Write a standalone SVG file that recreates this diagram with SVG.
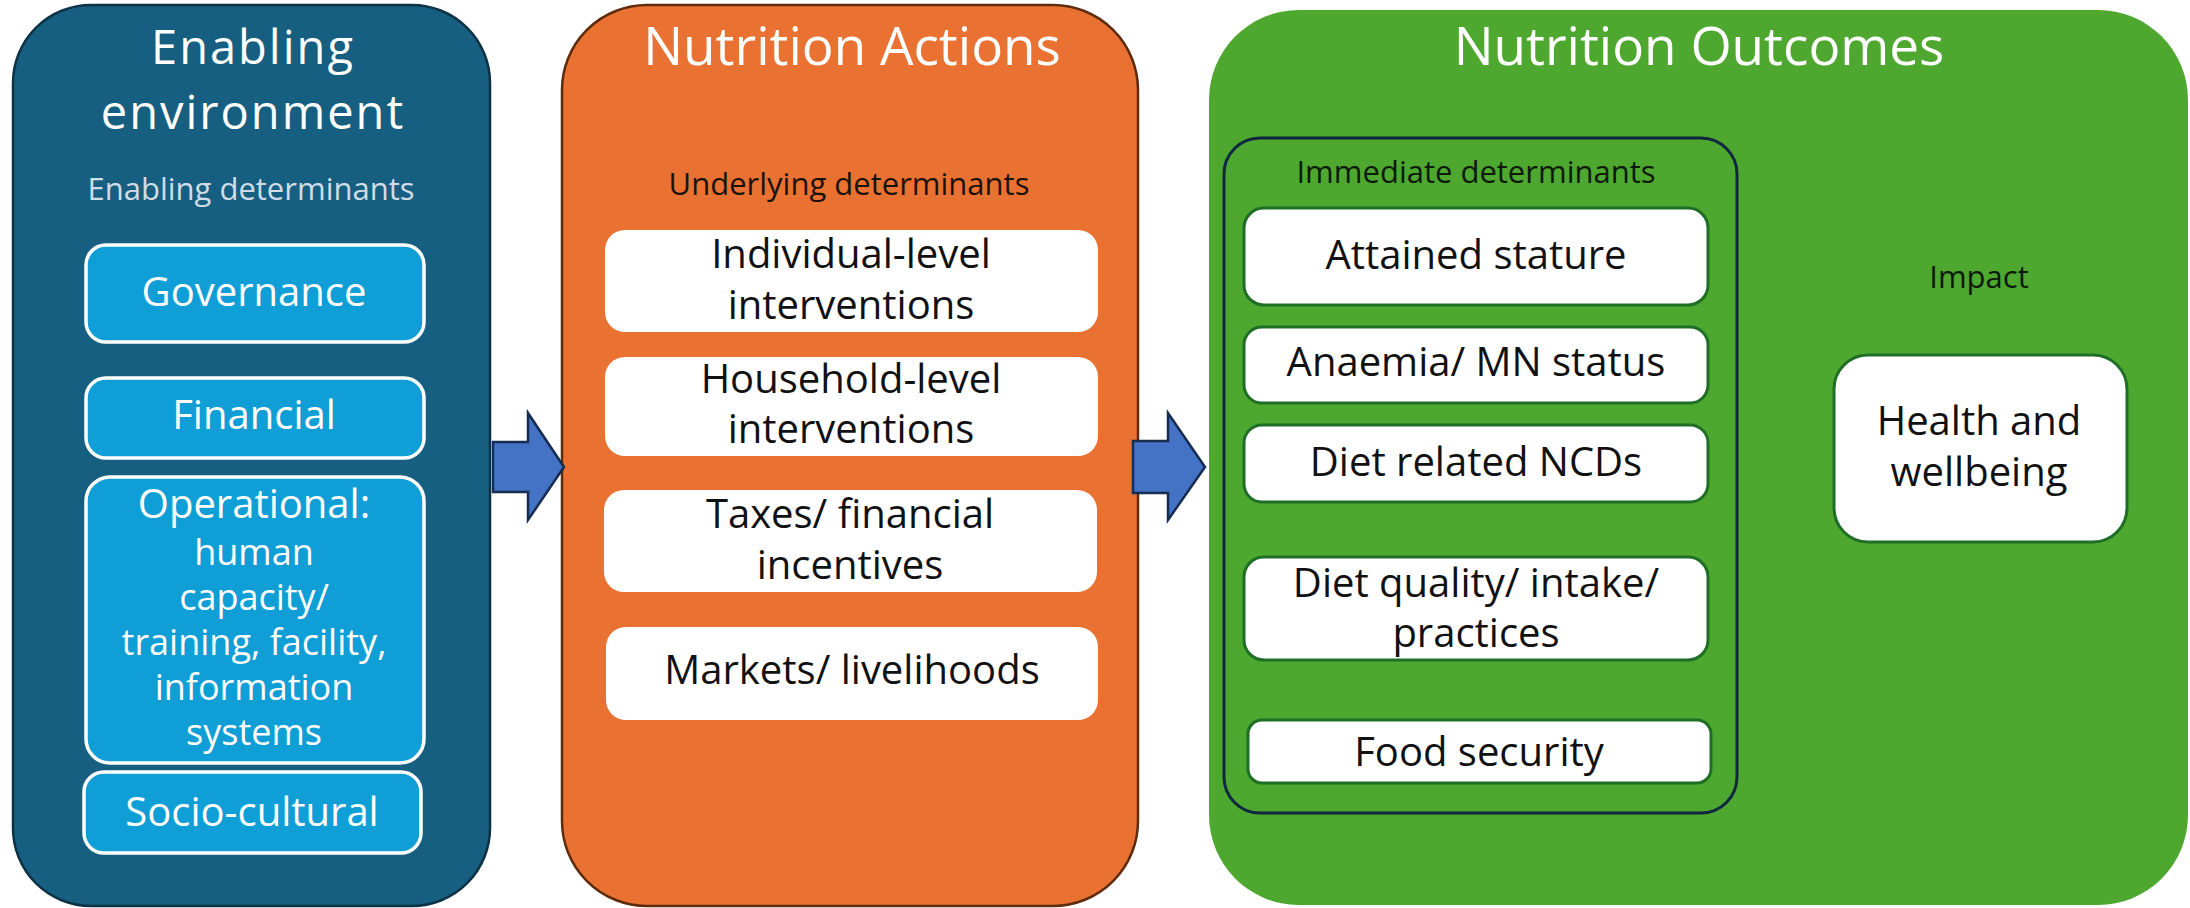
<svg xmlns="http://www.w3.org/2000/svg" width="2190" height="908" viewBox="0 0 2190 908">
<style>
text{font-family:"Open Sans","Liberation Sans",sans-serif;text-anchor:middle}
.title{font-size:53px;fill:#ffffff}
.title2{font-size:47px;fill:#ffffff;letter-spacing:2px}
.sub{font-size:31px}
.bt{font-size:40px;fill:#111111}
.wt{font-size:40px;fill:#ffffff}
.wts{font-size:36px;fill:#ffffff}
.blue{fill:#0f9ed5;stroke:#ffffff;stroke-width:3.5}
.wbox{fill:#ffffff}
.gbox{fill:#ffffff;stroke:#1f6e26;stroke-width:3}
.arrow{fill:#4472c4;stroke:#172c51;stroke-width:2.5;stroke-linejoin:miter}
</style>
<rect width="2190" height="908" fill="#ffffff"/>

<g id="panel-enabling">
<rect x="13" y="5" width="477" height="901" rx="78" ry="78" fill="#175f80" stroke="#0c3246" stroke-width="2.5"/>
<text class="title2" x="253" y="64">Enabling</text>
<text class="title2" x="253" y="129">environment</text>
<text class="sub" x="251" y="200" fill="#d0dde7">Enabling determinants</text>
</g>
<g id="node-governance">
<rect class="blue" x="86" y="245" width="338" height="97" rx="20"/>
<text class="wt" x="254" y="306">Governance</text>
</g>
<g id="node-financial">
<rect class="blue" x="86" y="378" width="338" height="80" rx="20"/>
<text class="wt" x="254" y="429">Financial</text>
</g>
<g id="node-operational">
<rect class="blue" x="86" y="477" width="338" height="286" rx="24"/>
<text class="wt" x="254" y="518">Operational:</text>
<text class="wts" x="254" y="565">human</text>
<text class="wts" x="254" y="610">capacity/</text>
<text class="wts" x="254" y="655">training, facility,</text>
<text class="wts" x="254" y="700">information</text>
<text class="wts" x="254" y="745">systems</text>
</g>
<g id="node-sociocultural">
<rect class="blue" x="84" y="772" width="337" height="81" rx="20"/>
<text class="wt" x="252" y="826">Socio-cultural</text>
</g>

<g id="panel-actions">
<rect x="562" y="5" width="576" height="901" rx="85" ry="85" fill="#e97132" stroke="#5e2b0c" stroke-width="2.5"/>
<text class="title" x="852" y="65">Nutrition Actions</text>
<text class="sub" x="849" y="195" fill="#1c120c">Underlying determinants</text>
</g>
<g id="node-individual">
<rect class="wbox" x="605" y="230" width="493" height="102" rx="20"/>
<text class="bt" x="851" y="268">Individual-level</text>
<text class="bt" x="851" y="319">interventions</text>
</g>
<g id="node-household">
<rect class="wbox" x="605" y="357" width="493" height="99" rx="20"/>
<text class="bt" x="851" y="393">Household-level</text>
<text class="bt" x="851" y="443">interventions</text>
</g>
<g id="node-taxes">
<rect class="wbox" x="604" y="490" width="493" height="102" rx="20"/>
<text class="bt" x="850" y="528">Taxes/ financial</text>
<text class="bt" x="850" y="579">incentives</text>
</g>
<g id="node-markets">
<rect class="wbox" x="606" y="627" width="492" height="93" rx="20"/>
<text class="bt" x="852" y="684">Markets/ livelihoods</text>
</g>

<g id="panel-outcomes">
<rect x="1209" y="10" width="979" height="895" rx="90" ry="90" fill="#4ea72e"/>
<text class="title" x="1699" y="65">Nutrition Outcomes</text>
</g>
<g id="group-immediate">
<rect x="1224" y="138" width="513" height="675" rx="36" ry="36" fill="none" stroke="#0e2841" stroke-width="3"/>
<text class="sub" x="1476" y="183" fill="#0d1a0a">Immediate determinants</text>
</g>
<g id="node-stature">
<rect class="gbox" x="1244" y="208" width="464" height="97" rx="20"/>
<text class="bt" x="1476" y="269">Attained stature</text>
</g>
<g id="node-anaemia">
<rect class="gbox" x="1244" y="327" width="464" height="76" rx="18"/>
<text class="bt" x="1476" y="376">Anaemia/ MN status</text>
</g>
<g id="node-ncds">
<rect class="gbox" x="1244" y="425" width="464" height="77" rx="18"/>
<text class="bt" x="1476" y="476">Diet related NCDs</text>
</g>
<g id="node-diet">
<rect class="gbox" x="1244" y="557" width="464" height="103" rx="20"/>
<text class="bt" x="1476" y="597">Diet quality/ intake/</text>
<text class="bt" x="1476" y="647">practices</text>
</g>
<g id="node-food">
<rect class="gbox" x="1248" y="720" width="463" height="63" rx="14"/>
<text class="bt" x="1479" y="766">Food security</text>
</g>
<g id="node-impact">
<text class="sub" x="1979" y="288" fill="#0d1a0a">Impact</text>
<rect class="gbox" x="1834" y="355" width="293" height="187" rx="34"/>
<text class="bt" x="1979" y="435">Health and</text>
<text class="bt" x="1979" y="486">wellbeing</text>
</g>

<g id="connectors">
<polygon class="arrow" points="493,442 528,442 528,413 564,467 528,520 528,492 493,492"/>
<polygon class="arrow" points="1133,441 1168,441 1168,413 1205,467 1168,520 1168,493 1133,493"/>
</g>
</svg>
